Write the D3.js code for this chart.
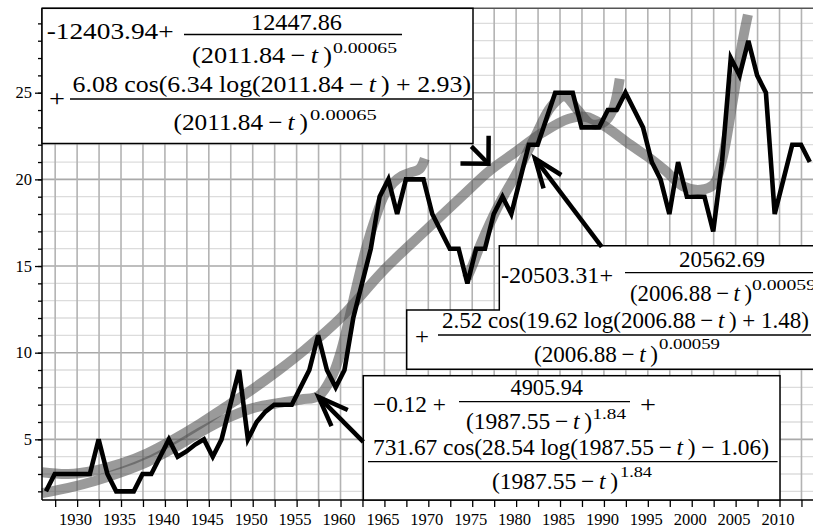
<!DOCTYPE html>
<html>
<head>
<meta charset="utf-8">
<script src="https://cdn.jsdelivr.net/npm/d3@7"></script>
<style>
  body { margin: 0; background: #fff; }
  svg { display: block; }
  text { font-family: "Liberation Serif", "Times New Roman", "DejaVu Serif", serif; fill: #000; }
</style>
</head>
<body>
<svg id="chart" width="813" height="530"></svg>
<script>
// yearly values (black line), 1926 .. 2013
const years = d3.range(1926, 2014);
const counts = [
  2, 3, 3, 3, 3, 3, 5, 3, 2, 2,          // 1926-1935
  2, 3, 3, 4, 5, 4, 4.3, 4.7, 5, 4,      // 1936-1945
  5, 7, 9, 5, 6, 6.6, 7, 7, 7, 8,        // 1946-1955
  9, 11, 9, 8, 9, 12, 14, 16, 19, 20,    // 1956-1965
  18, 20, 20, 20, 18, 17, 16, 16, 14, 16,// 1966-1975
  16, 18, 19, 18, 20, 22, 22, 23.5, 25, 25, // 1976-1985
  25, 23, 23, 23, 24, 24, 25, 24, 23, 21,// 1986-1995
  20, 18, 21, 19, 19, 19, 17, 21, 27, 26,// 1996-2005
  28, 26, 25, 18, 20, 22, 22, 21         // 2006-2013
];
const yearShift = 0.45; // points sit a little right of the year tick

// fitted curves (grey bands)
const fit1987T = [1926, 1929, 1932, 1935, 1938, 1941, 1944, 1947, 1950, 1953, 1955.5, 1957.5, 1959, 1960, 1961, 1962, 1963, 1964, 1965, 1966, 1967, 1968, 1969, 1969.6];
const fit1987V = [1.9, 2.2, 2.6, 3.1, 3.7, 4.5, 5.4, 6.2, 6.8, 7.1, 7.3, 7.5, 8.6, 10, 12, 14.2, 16.2, 17.8, 19.1, 19.8, 20.2, 20.4, 20.6, 21.2];

const fit2006T = [1974.4, 1975, 1976, 1978, 1980, 1982, 1984, 1985.5, 1987, 1988.5, 1990, 1991, 1991.8];
const fit2006V = [14.3, 15, 16.3, 18.5, 20.3, 22.3, 24.2, 24.8, 24.0, 23.2, 23.3, 24.0, 25.8];

const fit2011T = [1926, 1929, 1932, 1935, 1938, 1941, 1944, 1947, 1950, 1953, 1956, 1960, 1965, 1970, 1974, 1977, 1980, 1983, 1986, 1988, 1990, 1993, 1995, 1997, 1999, 2001, 2002.5, 2003.5, 2004.7, 2005.8, 2006.4];
const fit2011V = [3.1, 3.0, 3.2, 3.6, 4.2, 5.0, 5.9, 6.9, 7.9, 9.0, 10.2, 12.0, 14.8, 17.2, 19.1, 20.5, 21.6, 22.7, 23.5, 23.6, 23.1, 22.0, 21.3, 20.5, 19.6, 19.4, 19.7, 21.2, 24.6, 28.0, 29.5];

const xTicks = d3.range(1927.5, 2013, 2.5);
const yMajor = [5, 10, 15, 20, 25];
const yTicks = d3.range(2, 30);

// arrows: tail and tip in data units
const arrows = [
  { tail: [1974.9, 21.9], tip: [1976.85, 20.9], spread: 45, len: 28 },
  { tail: [1989.75, 16.1], tip: [1982.15, 21.2], spread: 21, len: 31 },
  { tail: [1962.6, 4.85], tip: [1957.5, 7.45], spread: 21, len: 32 }
];

const svg = d3.select("#chart");
const plotLeft = 42, plotBottom = 500, plotTop = 8.3;

const x = d3.scaleLinear().domain([1926, 2014]).range([plotLeft, plotLeft + 88 * 8.78]);
const y = d3.scaleLinear().domain([1.5, 29.87]).range([plotBottom, plotTop]);

// grid
const grid = svg.append("g");
grid.selectAll("line.h")
  .data(yTicks)
  .enter().append("line")
    .attr("x1", plotLeft).attr("x2", 813)
    .attr("y1", d => y(d)).attr("y2", d => y(d))
    .attr("stroke", d => d % 5 === 0 ? "#a9a9a9" : "#dcdcdc")
    .attr("stroke-width", d => d % 5 === 0 ? 1.6 : 1.3);
grid.selectAll("line.v")
  .data(xTicks)
  .enter().append("line")
    .attr("x1", d => x(d)).attr("x2", d => x(d))
    .attr("y1", plotTop).attr("y2", plotBottom)
    .attr("stroke", "#b3b3b3")
    .attr("stroke-width", 1.6);
grid.append("line")
  .attr("x1", plotLeft).attr("x2", 813)
  .attr("y1", plotTop).attr("y2", plotTop)
  .attr("stroke", "#555").attr("stroke-width", 1.5);

// grey fits
const fitLine = d3.line()
  .x(d => x(d[0]))
  .y(d => y(d[1]))
  .curve(d3.curveCatmullRom.alpha(0.5));

const fits = [
  d3.zip(fit1987T, fit1987V),
  d3.zip(fit2006T, fit2006V),
  d3.zip(fit2011T, fit2011V)
];
svg.append("g").selectAll("path")
  .data(fits)
  .enter().append("path")
    .attr("d", fitLine)
    .attr("fill", "none")
    .attr("stroke", "#515151")
    .attr("stroke-opacity", 0.58)
    .attr("stroke-width", 10);

// data line
const dataLine = d3.line()
  .x((d, i) => x(years[i] + yearShift))
  .y(d => y(d));
svg.append("path")
  .attr("d", dataLine(counts))
  .attr("fill", "none")
  .attr("stroke", "#000")
  .attr("stroke-width", 4.6)
  .attr("stroke-linejoin", "miter");

// axes
const yAxisMinor = d3.axisLeft(y).tickValues(yTicks).tickSize(4).tickFormat("");
const yAxis = d3.axisLeft(y).tickValues(yMajor).tickSize(7).tickPadding(3);
const xAxis = d3.axisBottom(x).tickValues(xTicks).tickSize(7).tickPadding(6)
  .tickFormat(d => d % 5 === 0 ? d : "");

function styleAxis(g) {
  g.attr("font-family", null);
  g.select(".domain").remove();
  g.selectAll(".tick line").attr("stroke", "#000").attr("stroke-width", 1.3);
  g.selectAll(".tick text")
    .attr("font-size", 16.5)
    .attr("fill", "#000");
}

svg.append("g").attr("transform", `translate(${plotLeft},0)`).call(yAxisMinor).call(styleAxis);
svg.append("g").attr("transform", `translate(${plotLeft},0)`).call(yAxis).call(styleAxis);
svg.append("g").attr("transform", `translate(0,${plotBottom})`).call(xAxis).call(styleAxis)
  .selectAll(".tick text").attr("dx", -2);

svg.append("line").attr("x1", plotLeft).attr("x2", plotLeft).attr("y1", plotTop).attr("y2", plotBottom)
  .attr("stroke", "#000").attr("stroke-width", 1.5);
svg.append("line").attr("x1", plotLeft).attr("x2", 813).attr("y1", plotBottom).attr("y2", plotBottom)
  .attr("stroke", "#000").attr("stroke-width", 1.5);

// formula boxes
const boxes = svg.append("g");
boxes.append("rect")
  .attr("x", plotLeft).attr("y", plotTop).attr("width", 473 - plotLeft).attr("height", 143.5 - plotTop)
  .attr("fill", "#fff").attr("stroke", "#000").attr("stroke-width", 1.5);
boxes.append("path")
  .attr("d", "M499.3,245.7H816V369.3H406.7V310H499.3Z")
  .attr("fill", "#fff").attr("stroke", "#000").attr("stroke-width", 1.5);
boxes.append("rect")
  .attr("x", 363.3).attr("y", 375.7).attr("width", 780 - 363.3).attr("height", plotBottom - 375.7)
  .attr("fill", "#fff").attr("stroke", "#000").attr("stroke-width", 1.5);

// text stretched to the span it takes in the picture
function mathText(str, x1, x2, base, size) {
  const t = boxes.append("text")
    .attr("x", x1).attr("y", base)
    .attr("font-size", size)
    .attr("textLength", x2 - x1)
    .attr("lengthAdjust", "spacingAndGlyphs");
  str.split(/(\{t\})/).forEach(part => {
    if (part === "{t}") t.append("tspan").attr("font-style", "italic").text("t");
    else if (part) t.append("tspan").text(part);
  });
  return t;
}
function bar(x1, x2, yy) {
  boxes.append("line").attr("x1", x1).attr("x2", x2).attr("y1", yy).attr("y2", yy)
    .attr("stroke", "#000").attr("stroke-width", 1.3);
}

const big = 23, sup = 15;
const den1 = "(2011.84\u2009\u2212\u2009{t}\u2009)";
const den2 = "(2006.88\u2009\u2212\u2009{t}\u2009)";
const den3 = "(1987.55\u2009\u2212\u2009{t}\u2009)";

// box 1
mathText("-12403.94+", 46.7, 173.7, 39, big);
mathText("12447.86", 251, 342, 30, big);
bar(184, 402, 34.5);
mathText(den1, 192, 332, 63, big);
mathText("0.00065", 333, 397, 53, sup);
mathText("+", 49, 65, 106, big);
mathText("6.08 cos(6.34 log(2011.84\u2009\u2212\u2009{t}\u2009) + 2.93)", 72.6, 471, 92, big);
bar(70, 472, 99);
mathText(den1, 173.5, 308, 130, big);
mathText("0.00065", 310, 376.7, 120, sup);

// box 2
mathText("-20503.31+", 501, 613, 283, big);
mathText("20562.69", 679, 765, 266.5, big);
bar(625, 813, 272.7);
mathText(den2, 630, 752, 300.5, big);
mathText("0.00059", 752, 816, 290, sup);
mathText("+", 415, 429, 344, big);
mathText("2.52 cos(19.62 log(2006.88\u2009\u2212\u2009{t}\u2009) + 1.48)", 442, 809, 327.5, big);
bar(438, 811, 335);
mathText(den2, 534, 658, 361.5, big);
mathText("0.00059", 659, 720, 349, sup);

// box 3
mathText("\u22120.12 +", 373, 446, 412, big);
mathText("4905.94", 510.5, 583, 395, big);
bar(459, 630, 401.7);
mathText(den3, 466, 592, 428.5, big);
mathText("1.84", 592.5, 626, 418.5, sup);
mathText("+", 640, 656, 412, big);
mathText("731.67 cos(28.54 log(1987.55\u2009\u2212\u2009{t}\u2009) \u2212 1.06)", 373, 769, 455, big);
bar(368, 777.6, 461.7);
mathText(den3, 492, 618, 488.5, big);
mathText("1.84", 620, 652, 477, sup);

// arrows
const arrowG = svg.append("g")
  .attr("stroke", "#000").attr("stroke-width", 4.5).attr("fill", "none")
  .attr("stroke-linecap", "butt").attr("stroke-linejoin", "miter");
arrows.forEach(a => {
  const tx = x(a.tip[0]), ty = y(a.tip[1]);
  const sx = x(a.tail[0]), sy = y(a.tail[1]);
  const back = Math.atan2(sy - ty, sx - tx);
  const r = a.spread * Math.PI / 180;
  const b1 = [tx + a.len * Math.cos(back - r), ty + a.len * Math.sin(back - r)];
  const b2 = [tx + a.len * Math.cos(back + r), ty + a.len * Math.sin(back + r)];
  arrowG.append("path").attr("d", `M${sx},${sy}L${tx},${ty}`);
  arrowG.append("path").attr("d", `M${b1[0]},${b1[1]}L${tx},${ty}L${b2[0]},${b2[1]}`);
});
</script>
</body>
</html>
